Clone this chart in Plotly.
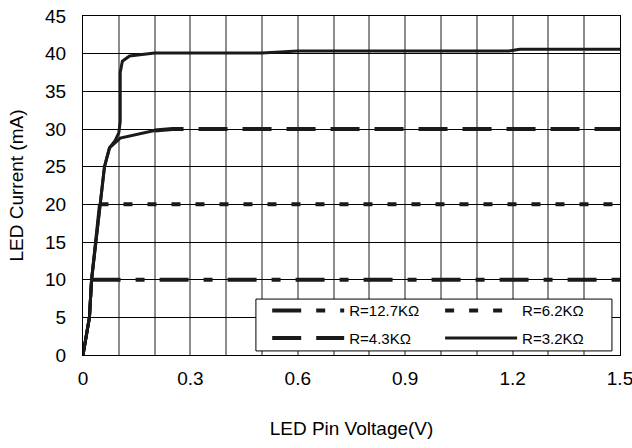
import plotly.graph_objects as go

# ---- data ----
series_names = ["R=12.7KΩ", "R=6.2KΩ", "R=4.3KΩ", "R=3.2KΩ"]

v_127 = [0, 0.012, 0.018, 0.024, 1.5]
i_127 = [0, 3.5, 5, 10, 10]

v_62 = [0, 0.012, 0.018, 0.024, 0.036, 0.046, 1.5]
i_62 = [0, 3.5, 5, 10, 15, 20, 20]

v_43 = [0, 0.012, 0.018, 0.024, 0.036, 0.046, 0.060, 0.074, 0.104, 0.2, 0.25, 1.5]
i_43 = [0, 3.5, 5, 10, 15, 20, 25, 27.5, 28.8, 29.8, 30, 30]

v_32 = [0, 0.012, 0.018, 0.024, 0.036, 0.046, 0.060, 0.074, 0.09, 0.10, 0.104, 0.104,
        0.11, 0.13, 0.2, 0.5, 0.6, 1.19, 1.22, 1.5]
i_32 = [0, 3.5, 5, 10, 15, 20, 25, 27.5, 28.5, 29.5, 31, 37.5,
        39, 39.7, 40.1, 40.1, 40.35, 40.35, 40.6, 40.6]

x_tickvals = [0, 0.3, 0.6, 0.9, 1.2, 1.5]
x_ticktext = ["0", "0.3", "0.6", "0.9", "1.2", "1.5"]
x_range = [0, 1.5]
y_range = [0, 45]

# index where each curve leaves the shared rising part (solid) and becomes dashed
knees = [3, 5, 9, None]
dashes = ["29px,15px,9px,15px", "9px,15px", "29px,15px", "solid"]
widths = [4, 4, 4, 3]
legend_cols = ["legend", "legend2", "legend", "legend2"]
data = [(v_127, i_127), (v_62, i_62), (v_43, i_43), (v_32, i_32)]

fig = go.Figure()
BLACK = "#1a1a1a"
for n, (name, (vx, iy), k, d, w, lg) in enumerate(
        zip(series_names, data, knees, dashes, widths, legend_cols)):
    start = 0 if k is None else k
    if k is not None:
        fig.add_trace(go.Scatter(x=vx[:k + 1], y=iy[:k + 1], mode="lines",
                                 showlegend=False, hoverinfo="skip",
                                 line=dict(color=BLACK, width=3)))
    fig.add_trace(go.Scatter(x=vx[start:], y=iy[start:], mode="lines", name=name,
                             legend=lg, legendgroup=f"g{n}",
                             line=dict(color=BLACK, width=w, dash=d)))

FONT = "Liberation Sans, Arial, sans-serif"
leg_common = dict(orientation="v", yanchor="top", y=0.179, xanchor="left",
                  bgcolor="rgba(0,0,0,0)", borderwidth=0,
                  font=dict(size=15, family=FONT), itemwidth=72,
                  traceorder="grouped", tracegroupgap=5)
fig.update_layout(
    width=632, height=448,
    margin=dict(l=83, r=12, t=16, b=93),
    paper_bgcolor="white", plot_bgcolor="white",
    font=dict(family=FONT, color="black", size=19),
    showlegend=True,
    legend=dict(x=0.343, **leg_common),
    legend2=dict(x=0.665, **leg_common),
    shapes=[dict(type="rect", xref="paper", yref="paper", x0=0.322, x1=0.985,
                 y0=0.012, y1=0.165, fillcolor="white",
                 line=dict(color="black", width=1), layer="above")],
)
fig.update_xaxes(range=x_range, tickvals=x_tickvals, ticktext=x_ticktext,
                 showgrid=True, gridcolor="#8c8c8c", gridwidth=1.5,
                 showline=True, linecolor="black", linewidth=1, mirror=True,
                 ticks="", ticklabelstandoff=6, tickfont=dict(size=19),
                 ticklabeloverflow="allow",
                 minor=dict(dtick=0.1, tick0=0, showgrid=True, gridcolor="#8c8c8c", gridwidth=1.5),
                 zeroline=False, automargin=False,
                 title=dict(text="LED Pin Voltage(V)", font=dict(size=19), standoff=33))
fig.update_yaxes(range=y_range, dtick=5, tick0=0, showgrid=True, gridcolor="black",
                 gridwidth=1, showline=True, linecolor="black", linewidth=1, mirror=True,
                 ticks="", ticklabelstandoff=12, tickfont=dict(size=19), zeroline=False,
                 ticklabeloverflow="allow", automargin=False,
                 title=dict(text="LED Current (mA)", font=dict(size=19), standoff=16))

fig.write_html("out.html", config={"displayModeBar": False},
               post_script="document.body.style.margin='0';document.body.style.overflow='hidden';")
